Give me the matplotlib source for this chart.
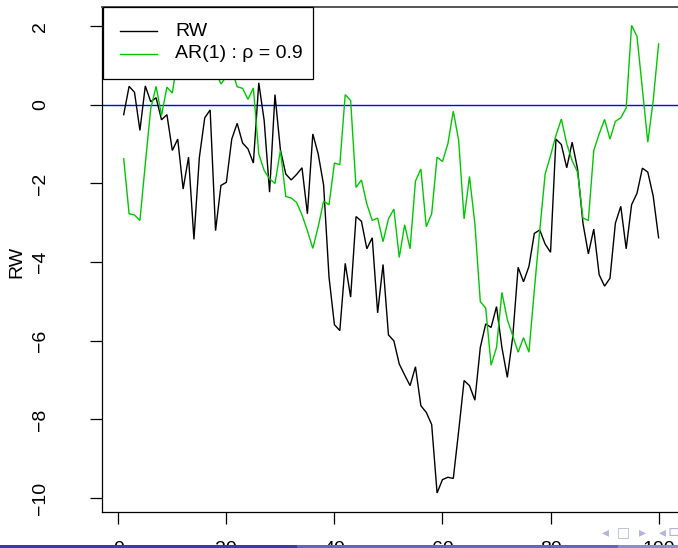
import numpy as np
import matplotlib
matplotlib.use("Agg")
import matplotlib.pyplot as plt
from matplotlib.patches import Rectangle
from matplotlib.lines import Line2D

plt.rcParams['font.family'] = ['Liberation Sans', 'DejaVu Sans']

# --- data -------------------------------------------------------------
t = np.arange(1, 101)

rw = [-0.25, 0.47, 0.32, -0.65, 0.48, 0.08, 0.18, -0.38, -0.25, -1.16,
      -0.87, -2.14, -1.33, -3.42, -1.34, -0.33, -0.13, -3.20, -2.05, -1.97,
      -0.87, -0.47, -0.97, -1.12, -1.48, 0.56, -0.40, -2.22, 0.26, -1.14,
      -1.76, -1.91, -1.77, -1.60, -2.77, -0.74, -1.25, -2.04, -4.38, -5.59,
      -5.74, -4.03, -4.89, -2.84, -2.96, -3.66, -3.38, -5.29, -4.06, -5.85,
      -6.00, -6.59, -6.87, -7.14, -6.66, -7.65, -7.82, -8.13, -9.87, -9.53,
      -9.47, -9.50, -8.29, -7.01, -7.14, -7.51, -6.17, -5.57, -5.66, -5.13,
      -6.17, -6.93, -5.91, -4.13, -4.50, -4.11, -3.27, -3.18, -3.54, -3.75,
      -0.87, -1.01, -1.60, -0.95, -1.63, -3.01, -3.79, -3.16, -4.32, -4.61,
      -4.41, -3.01, -2.58, -3.66, -2.54, -2.25, -1.61, -1.71, -2.32, -3.38]

ar1 = [-1.37, -2.77, -2.80, -2.94, -1.50, -0.10, 0.47, -0.27, 0.45, 0.30,
       1.20, 0.95, 1.40, 1.10, 0.85, 1.30, 1.05, 0.85, 0.53, 0.72,
       0.90, 0.46, 0.42, 0.14, 0.43, -1.25, -1.67, -1.88, -2.00, -1.16,
       -2.33, -2.37, -2.48, -2.80, -3.20, -3.65, -3.10, -2.45, -2.54, -1.48,
       -1.52, 0.26, 0.11, -2.10, -1.91, -2.52, -2.94, -2.88, -3.48, -2.90,
       -2.65, -3.88, -3.05, -3.66, -1.94, -1.63, -3.10, -2.77, -1.33, -1.44,
       -0.99, -0.16, -0.91, -2.90, -1.82, -3.03, -5.00, -5.17, -6.62, -6.17,
       -4.77, -5.46, -5.87, -6.29, -5.92, -6.29, -4.71, -3.20, -1.76, -1.29,
       -0.78, -0.36, -0.99, -1.42, -1.71, -2.88, -2.94, -1.16, -0.74, -0.37,
       -0.87, -0.42, -0.33, -0.08, 2.02, 1.74, 0.40, -0.95, 0.11, 1.55]

x_ticks = [0, 20, 40, 60, 80, 100]
y_ticks = [-10, -8, -6, -4, -2, 0, 2]
legend_labels = ["RW", "AR(1) : \u03c1 = 0.9"]
y_label = "RW"

# --- figure -----------------------------------------------------------
W, H = 678, 548
fig = plt.figure(figsize=(W / 100, H / 100), dpi=100)

left, right, bottom, top = 102.3, 680.0, 511.7, 6.7
ax = fig.add_axes([left / W, (H - bottom) / H, (right - left) / W, (bottom - top) / H])

# R-style 4% padding around the data range
xmin, xmax = 1, 100
ymin, ymax = min(min(rw), min(ar1)), max(max(rw), max(ar1))
px, py = 0.04 * (xmax - xmin), 0.04 * (ymax - ymin)
ax.set_xlim(xmin - px, xmax + px)
ax.set_ylim(ymin - py, ymax + py)

green = "#00C800"
ax.plot(t, rw, color="black", lw=1.0, solid_joinstyle="miter", zorder=3)
ax.plot(t, ar1, color=green, lw=1.0, solid_joinstyle="miter", zorder=3)
ax.axhline(0, color="#0000FF", lw=1.0, zorder=2)

ax.set_xticks(x_ticks)
ax.set_yticks(y_ticks)
ax.set_xticklabels([str(v) for v in x_ticks])
ax.set_yticklabels([str(v).replace("-", "\u2212") for v in y_ticks])
ax.tick_params(axis="both", direction="out", length=8.4, width=0.9, colors="black",
               labelsize=14)
ax.tick_params(axis="y", pad=30, labelrotation=90)
ax.tick_params(axis="x", pad=13)
for lab in ax.get_yticklabels():
    lab.set_va("center")
for side in ("left", "bottom", "right"):
    ax.spines[side].set_linewidth(0.9)
    ax.spines[side].set_color("black")
ax.spines["top"].set_linewidth(1.4)
ax.spines["top"].set_color("#555555")

fig.text(17 / W, 1 - 262 / H, y_label, rotation=90, ha="center", va="center",
         fontsize=14)

# legend box in the top-left corner of the plotting region
pix = fig.transFigure
def fx(x):
    return x / W
def fy(y):
    return 1 - y / H

fig.patches.append(Rectangle((fx(102.7), fy(79.3)), fx(313) - fx(102.7), fy(6.7) - fy(79.3),
                             transform=pix, facecolor="white", edgecolor="black",
                             lw=0.9, zorder=5))
for yy, col, lab in [(31, "black", legend_labels[0]), (54, green, legend_labels[1])]:
    fig.lines.append(Line2D([fx(120), fx(156.7)], [fy(yy), fy(yy)], transform=pix,
                            color=col, lw=1.0, zorder=6))
    fig.text(fx(175), fy(yy), lab, ha="left", va="center", fontsize=14, zorder=7)

# slide footer strip and navigation symbols
footer = [(0, 297, "#3A3AAE"), (297, 618, "#6464C4"), (618, 678, "#8C8CD4")]
for x0, x1, c in footer:
    fig.patches.append(Rectangle((fx(x0), 0), fx(x1) - fx(x0), 3.5 / H, transform=pix,
                                 facecolor=c, edgecolor="none", zorder=10))
nav_symbols = [(605, "\u25c2"), (623, "\u25a1"), (642, "\u25b8"), (662, "\u25c2"), (673, "\u228f")]
for nx, sym in nav_symbols:
    fig.text(fx(nx), fy(532), sym, ha="center", va="center", fontsize=10,
             color="#B4B4DC", family=["DejaVu Sans"], zorder=11)

fig.savefig("out.png", dpi=100)
